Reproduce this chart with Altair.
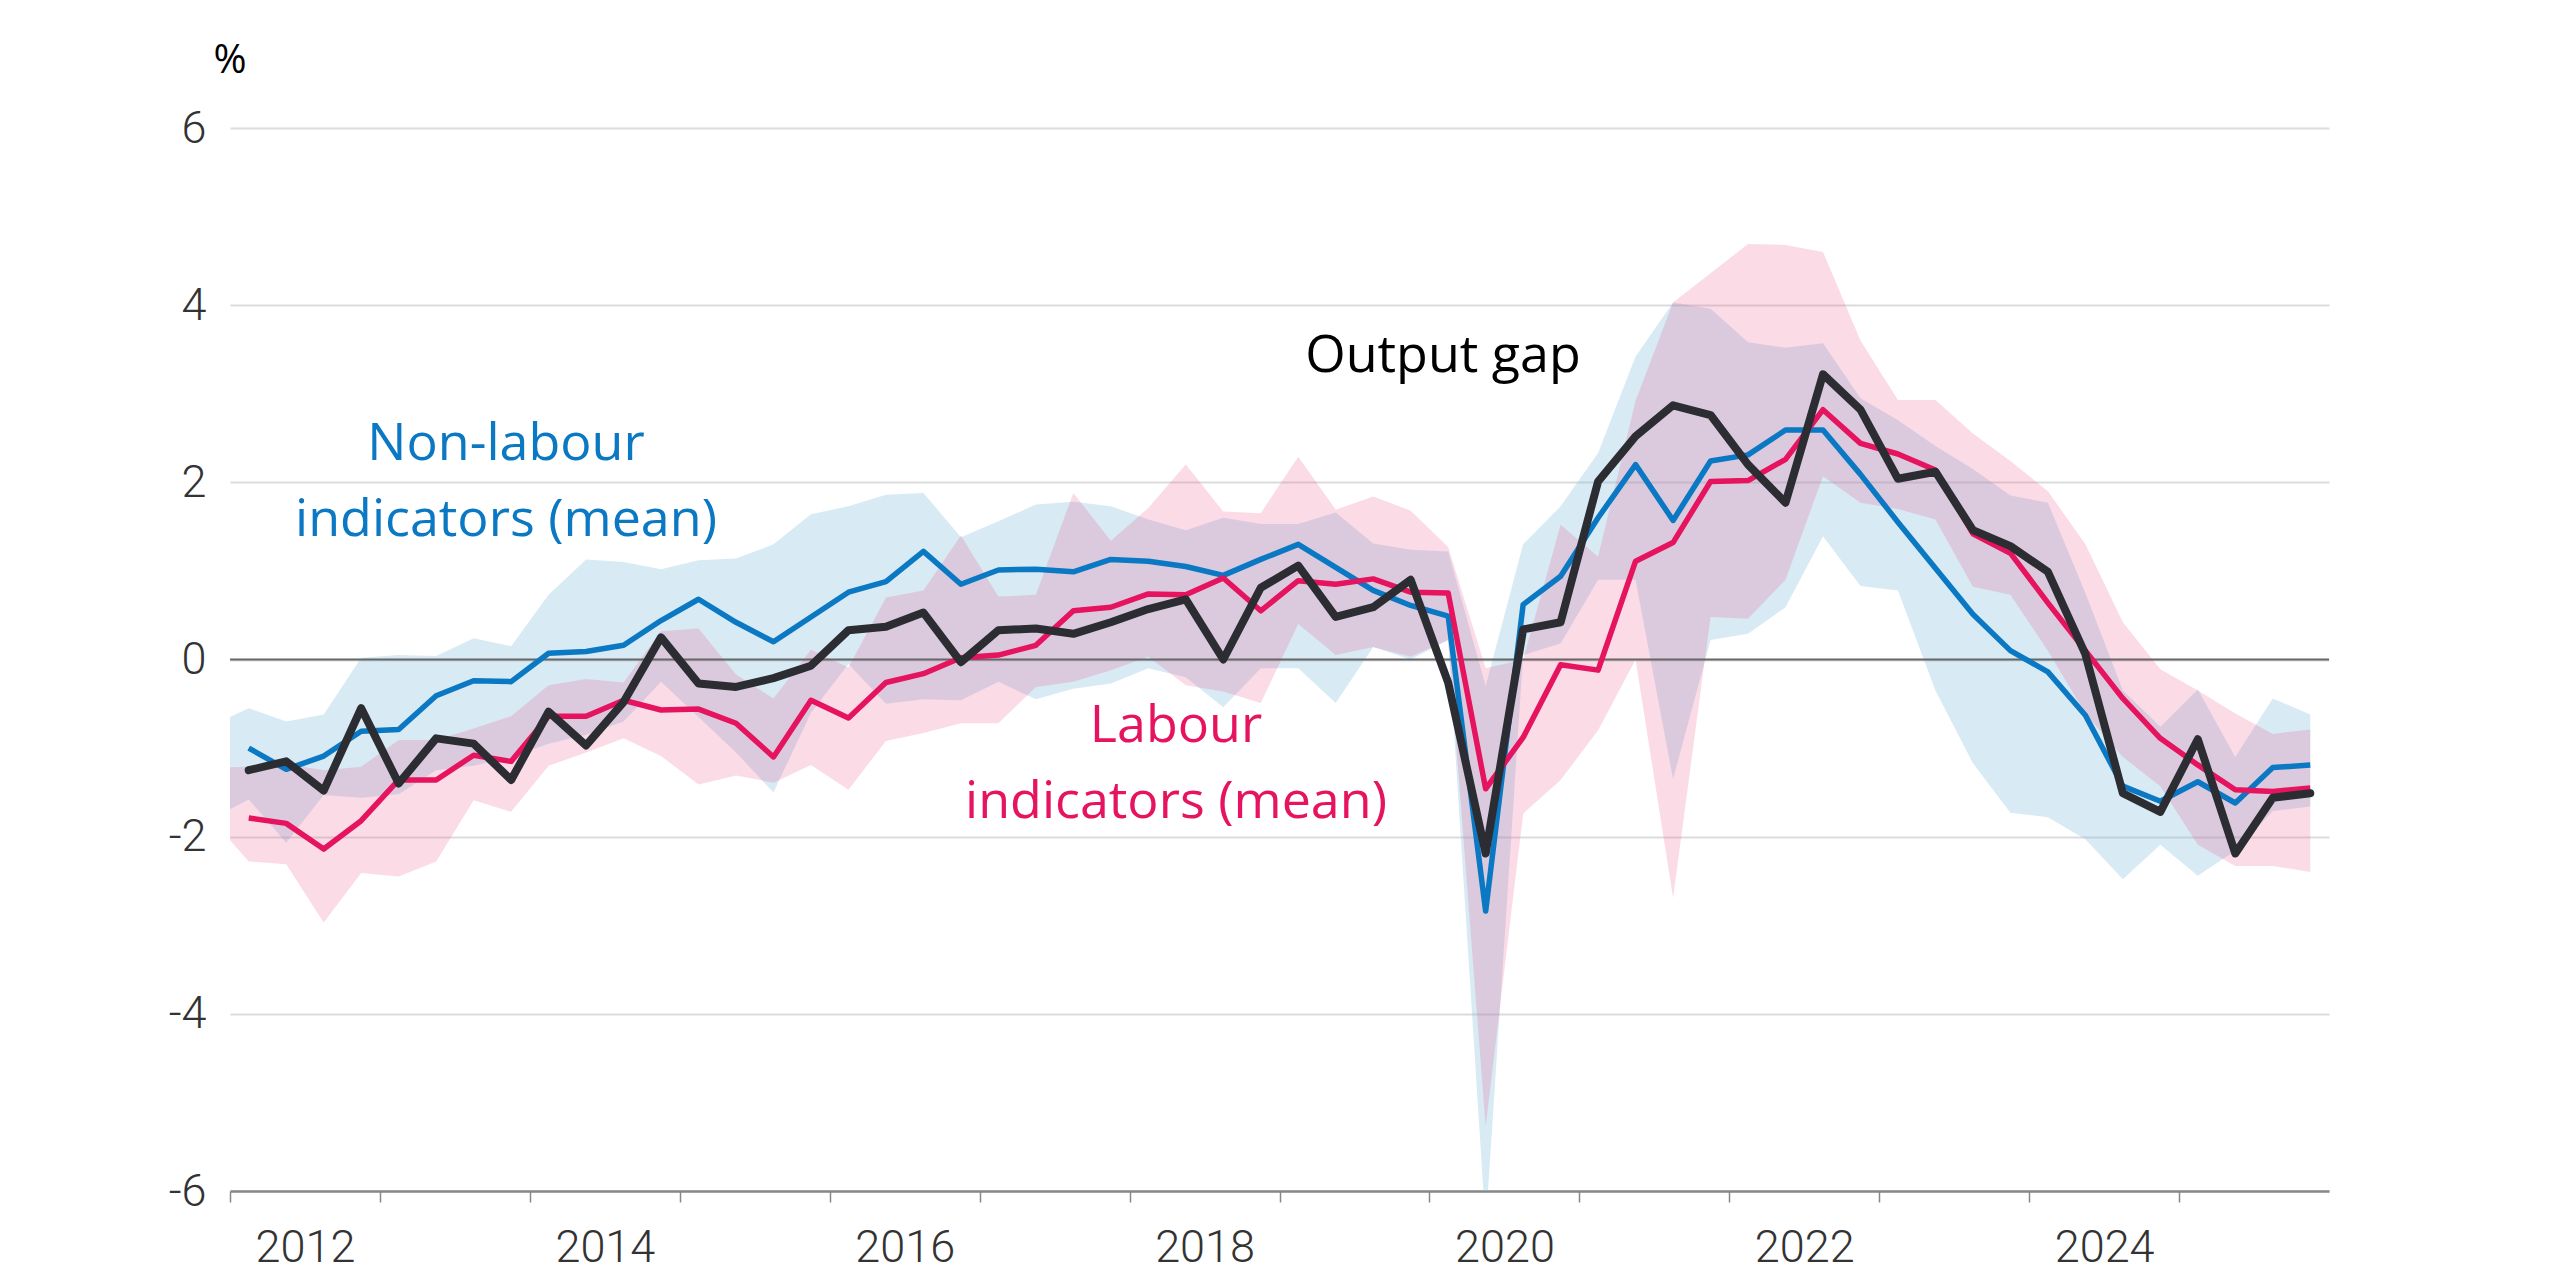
import altair as alt
import pandas as pd

# ---------------- data ----------------
quarters = [f"{y}Q{q}" for y in range(2012, 2026) for q in range(1, 5)]
band_quarters = ["2011Q4"] + quarters

output_gap = [
    -1.25, -1.15, -1.48, -0.55, -1.40, -0.89, -0.95, -1.36,
    -0.59, -0.97, -0.48, 0.25, -0.27, -0.31, -0.21, -0.07,
    0.33, 0.37, 0.53, -0.03, 0.33, 0.35, 0.29, 0.42,
    0.57, 0.68, 0.00, 0.81, 1.06, 0.48, 0.59, 0.90,
    -0.26, -2.19, 0.34, 0.42, 2.01, 2.52, 2.87, 2.76,
    2.20, 1.77, 3.22, 2.82, 2.04, 2.12, 1.46, 1.28,
    0.99, 0.06, -1.51, -1.72, -0.90, -2.19, -1.56, -1.51,
]
non_labour_mean = [
    -1.00, -1.24, -1.09, -0.81, -0.79, -0.41, -0.24, -0.25,
    0.07, 0.09, 0.16, 0.44, 0.68, 0.42, 0.20, 0.48,
    0.76, 0.88, 1.22, 0.85, 1.01, 1.02, 0.99, 1.13,
    1.11, 1.05, 0.95, 1.13, 1.30, 1.04, 0.78, 0.61,
    0.49, -2.84, 0.62, 0.94, 1.60, 2.20, 1.57, 2.24,
    2.31, 2.59, 2.59, 2.09, 1.55, 1.03, 0.51, 0.10,
    -0.14, -0.63, -1.43, -1.60, -1.38, -1.62, -1.22, -1.19,
]
labour_mean = [
    -1.79, -1.85, -2.14, -1.82, -1.36, -1.36, -1.08, -1.15,
    -0.64, -0.64, -0.46, -0.57, -0.56, -0.72, -1.10, -0.46,
    -0.66, -0.26, -0.16, 0.02, 0.05, 0.16, 0.55, 0.59,
    0.74, 0.73, 0.92, 0.55, 0.89, 0.85, 0.91, 0.76,
    0.75, -1.46, -0.88, -0.06, -0.12, 1.11, 1.32, 2.01,
    2.02, 2.26, 2.82, 2.44, 2.32, 2.14, 1.42, 1.20,
    0.64, 0.10, -0.44, -0.89, -1.19, -1.47, -1.49, -1.45,
]
# ranges (from 2011Q4)
non_labour_upper = [
    -0.75, -0.55, -0.70, -0.62, 0.02, 0.05, 0.04, 0.24, 0.15,
    0.73, 1.13, 1.10, 1.02, 1.12, 1.14, 1.30, 1.64,
    1.73, 1.86, 1.88, 1.38, 1.56, 1.75, 1.78, 1.73,
    1.58, 1.46, 1.60, 1.53, 1.53, 1.66, 1.31, 1.24,
    1.22, -0.30, 1.30, 1.73, 2.33, 3.42, 4.03, 3.96,
    3.58, 3.52, 3.57, 2.95, 2.70, 2.41, 2.15, 1.85,
    1.77, 0.75, -0.35, -0.76, -0.34, -1.10, -0.44, -0.62,
]
non_labour_lower = [
    -1.80, -1.58, -2.07, -1.53, -1.56, -1.52, -1.25, -1.20, -1.10,
    -0.95, -0.85, -0.70, -0.25, -0.65, -1.05, -1.50, -0.60,
    -0.05, -0.50, -0.45, -0.46, -0.25, -0.45, -0.33, -0.27,
    -0.10, -0.20, -0.54, -0.10, -0.10, -0.49, 0.14, 0.00,
    0.22, -6.40, 0.05, 0.18, 0.90, 0.90, -1.35, 0.22,
    0.29, 0.59, 1.39, 0.83, 0.78, -0.35, -1.17, -1.73,
    -1.78, -2.03, -2.48, -2.09, -2.44, -2.16, -1.71, -1.66,
]
labour_upper = [
    -1.22, -1.21, -1.18, -1.25, -1.21, -0.91, -0.91, -0.78, -0.64,
    -0.29, -0.22, -0.26, 0.32, 0.35, -0.17, -0.44, 0.11,
    -0.09, 0.70, 0.78, 1.40, 0.71, 0.73, 1.88, 1.34,
    1.71, 2.20, 1.67, 1.65, 2.29, 1.69, 1.84, 1.68,
    1.27, -0.10, 0.00, 1.52, 1.16, 2.92, 4.03, 4.36,
    4.69, 4.68, 4.60, 3.60, 2.93, 2.93, 2.55, 2.24,
    1.90, 1.30, 0.42, -0.11, -0.35, -0.61, -0.84, -0.79,
]
labour_lower = [
    -1.80, -2.28, -2.31, -2.97, -2.41, -2.45, -2.28, -1.59, -1.72,
    -1.20, -1.05, -0.89, -1.09, -1.41, -1.31, -1.39, -1.19,
    -1.47, -0.92, -0.83, -0.72, -0.72, -0.31, -0.25, -0.12,
    0.03, -0.29, -0.36, -0.49, 0.40, 0.05, 0.14, 0.03,
    0.22, -5.27, -1.74, -1.36, -0.80, 0.00, -2.69, 0.48,
    0.46, 0.90, 2.07, 1.77, 1.70, 1.58, 0.82, 0.73,
    0.10, -0.61, -1.10, -1.43, -2.09, -2.33, -2.33, -2.40,
]

y_ticks = [-6, -4, -2, 0, 2, 4, 6]
x_year_ticks = list(range(2012, 2026))
x_year_labels = [2012, 2014, 2016, 2018, 2020, 2022, 2024]


def quarter_to_t(q):
    # mid-point of the quarter, in fractional years
    return int(q[:4]) + (int(q[5]) - 0.5) / 4.0


lines_df = pd.DataFrame({
    "t": [quarter_to_t(q) for q in quarters],
    "gap": output_gap,
    "nl": non_labour_mean,
    "lab": labour_mean,
})
bands_df = pd.DataFrame({
    "t": [quarter_to_t(q) for q in band_quarters],
    "nl_hi": non_labour_upper,
    "nl_lo": non_labour_lower,
    "lab_hi": labour_upper,
    "lab_lo": labour_lower,
})

# ---------------- styling ----------------
BLUE = "#0a78c2"
PINK = "#e6135f"
BLACK = "#2b2d33"
AX_FONT = "Roboto"
TXT_FONT = "Open Sans"

label_expr = " || ".join(f"datum.value == {v}" for v in x_year_labels)
xscale = alt.Scale(domain=[2012, 2026], nice=False, zero=False)
yscale = alt.Scale(domain=[-6, 6], nice=False, zero=False)

xaxis = alt.Axis(
    values=x_year_ticks,
    labelExpr=f"({label_expr}) ? datum.value + '' : ''",
    labelOffset=75,
    labelAlign="center",
    labelFont=AX_FONT,
    labelFontWeight=300,
    labelFontSize=45,
    labelColor="#333333",
    labelPadding=23,
    tickSize=11,
    tickColor="#888888",
    tickWidth=1.5,
    domainColor="#888888",
    domainWidth=2.5,
    grid=False,
    title=None,
    labelOverlap=False,
)
yaxis = alt.Axis(
    values=y_ticks,
    labelExpr="datum.value < 0 ? '-' + abs(datum.value) : datum.value + ''",
    labelFont=AX_FONT,
    labelFontWeight=300,
    labelFontSize=45,
    labelColor="#333333",
    labelPadding=24,
    ticks=False,
    domain=False,
    grid=True,
    gridColor="#dcdcdc",
    gridWidth=2,
    title=None,
)

X = alt.X("t:Q", scale=xscale, axis=xaxis)

band_nl = alt.Chart(bands_df).mark_area(color="#7fb8dc", opacity=0.3, clip=True).encode(
    x=X, y=alt.Y("nl_lo:Q", scale=yscale, axis=yaxis), y2="nl_hi:Q"
)
band_lab = alt.Chart(bands_df).mark_area(color="#e75488", opacity=0.21, clip=True).encode(
    x=X, y=alt.Y("lab_lo:Q", scale=yscale, axis=yaxis), y2="lab_hi:Q"
)
zero_rule = alt.Chart(pd.DataFrame({"z": [0]})).mark_rule(color="#666666", strokeWidth=2).encode(
    y=alt.Y("z:Q", scale=yscale, axis=yaxis)
)
line_nl = alt.Chart(lines_df).mark_line(color=BLUE, strokeWidth=5.5, strokeJoin="round", clip=True).encode(
    x=X, y=alt.Y("nl:Q", scale=yscale, axis=yaxis)
)
line_lab = alt.Chart(lines_df).mark_line(color=PINK, strokeWidth=5.5, strokeJoin="round", clip=True).encode(
    x=X, y=alt.Y("lab:Q", scale=yscale, axis=yaxis)
)
line_gap = alt.Chart(lines_df).mark_line(color=BLACK, strokeWidth=8, strokeJoin="round", strokeCap="round", clip=True).encode(
    x=X, y=alt.Y("gap:Q", scale=yscale, axis=yaxis)
)

def note(text, x, y, color, size=52, line_height=76):
    return alt.Chart(pd.DataFrame({"txt": [text]})).mark_text(
        font=TXT_FONT, fontSize=size, color=color, align="center",
        baseline="alphabetic", lineBreak="\n", lineHeight=line_height,
    ).encode(text="txt:N", x=alt.value(x), y=alt.value(y))

notes = [
    note("Non-labour\nindicators (mean)", 276, 332, BLUE),
    note("Labour\nindicators (mean)", 946, 614, PINK),
    note("Output gap", 1213, 244, "#000000"),
    note("%", 0, -55, "#000000", size=40),
]

chart = alt.layer(
    band_nl, band_lab, zero_rule, line_nl, line_lab, line_gap, *notes
).properties(
    width=2099,
    height=1063,
    autosize=alt.AutoSizeParams(type="none"),
    padding={"left": 230, "top": 128, "right": 231, "bottom": 89},
    background="white",
).configure_view(stroke=None)

chart.save("out.html", embed_options={"renderer": "svg", "actions": False})
